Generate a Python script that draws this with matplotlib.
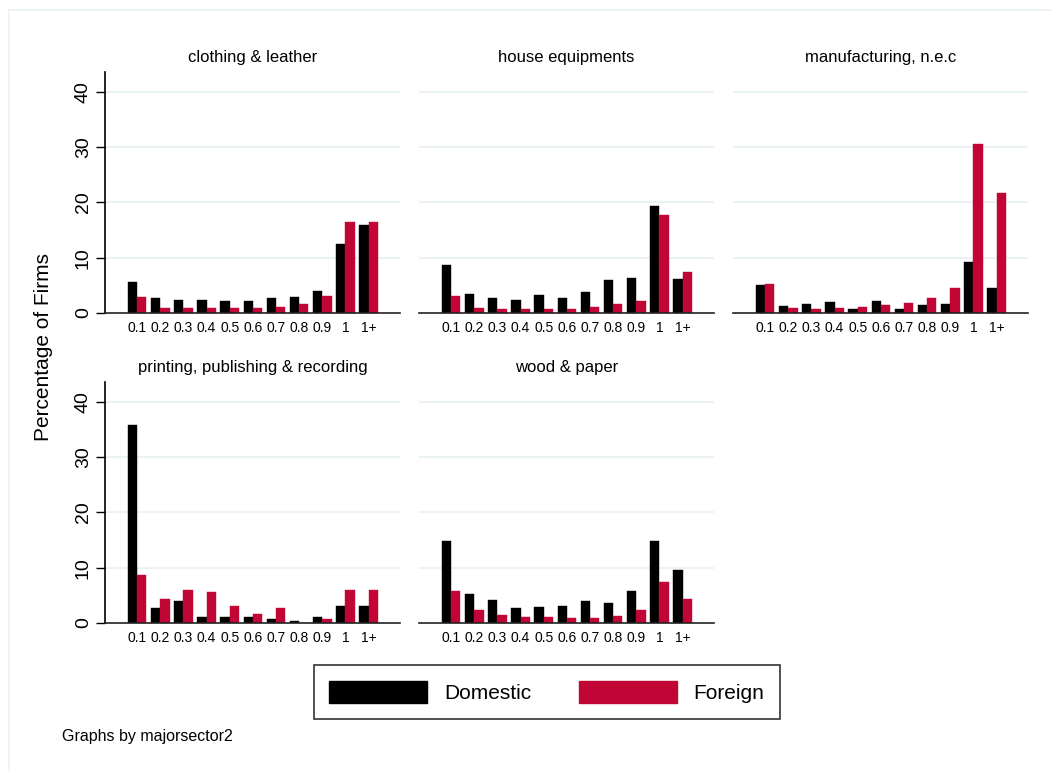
import matplotlib
matplotlib.use('Agg')
import matplotlib.pyplot as plt
from matplotlib.patches import Patch
from matplotlib.lines import Line2D
import numpy as np

plt.rcParams['font.family'] = ['Liberation Sans', 'DejaVu Sans']

# data
categories = ['0.1', '0.2', '0.3', '0.4', '0.5', '0.6', '0.7', '0.8', '0.9', '1', '1+']
sectors = ['clothing & leather', 'house equipments', 'manufacturing, n.e.c',
           'printing, publishing & recording', 'wood & paper']

clothing_dom = [5.6, 2.7, 2.4, 2.3, 2.2, 2.2, 2.7, 2.9, 3.9, 12.4, 16.0]
clothing_for = [2.9, 0.9, 0.9, 0.9, 0.9, 0.95, 1.1, 1.6, 3.1, 16.5, 16.5]
house_dom = [8.6, 3.4, 2.65, 2.35, 3.2, 2.75, 3.8, 5.9, 6.4, 19.3, 6.1]
house_for = [3.1, 0.9, 0.65, 0.7, 0.65, 0.7, 1.1, 1.7, 2.2, 17.7, 7.4]
manuf_dom = [5.05, 1.25, 1.6, 2.0, 0.7, 2.15, 0.7, 1.5, 1.6, 9.2, 4.45]
manuf_for = [5.3, 0.9, 0.7, 0.85, 1.15, 1.4, 1.85, 2.7, 4.45, 30.6, 21.7]
print_dom = [35.8, 2.7, 4.0, 1.15, 1.15, 1.15, 0.7, 0.35, 1.15, 3.15, 3.15]
print_for = [8.7, 4.35, 5.9, 5.6, 3.15, 1.6, 2.75, 0.0, 0.8, 5.9, 5.9]
wood_dom = [14.9, 5.25, 4.1, 2.8, 2.9, 3.0, 3.9, 3.6, 5.7, 14.8, 9.5]
wood_for = [5.85, 2.3, 1.45, 1.15, 1.0, 0.9, 0.9, 1.35, 2.3, 7.4, 4.4]

domestic = [clothing_dom, house_dom, manuf_dom, print_dom, wood_dom]
foreign = [clothing_for, house_for, manuf_for, print_for, wood_for]

dom_color = '#000000'
for_color = '#c10534'
grid_color = '#eaf2f3'

W, H = 1051, 771
fig = plt.figure(figsize=(W / 100, H / 100), dpi=100)

# outer frame (top and left edges visible in the reference)
fig.add_artist(Line2D([9 / W, 1.0], [1 - 10 / H, 1 - 10 / H], color=grid_color, lw=1.2))
fig.add_artist(Line2D([9 / W, 9 / W], [1 - 10 / H, 0.0], color=grid_color, lw=1.2))

col_x = [105, 419, 733]
row_base = [313, 623]
panel_w = 295
panel_h = 241
x = np.arange(len(categories))
bw = 0.4

for k, name in enumerate(sectors):
    r, c = divmod(k, 3)
    left = col_x[c] / W
    bottom = 1 - row_base[r] / H
    ax = fig.add_axes([left, bottom, panel_w / W, panel_h / H])
    ax.bar(x - bw / 2, domestic[k], bw, color=dom_color, edgecolor=dom_color, lw=0.3)
    ax.bar(x + bw / 2, foreign[k], bw, color=for_color, edgecolor=for_color, lw=0.3)
    ax.set_xlim(-1.39, 11.36)
    ax.set_ylim(0, 43.6)
    for g in [10, 20, 30, 40]:
        ax.axhline(g, color=grid_color, lw=1.5, zorder=0)
    ax.set_xticks(x)
    ax.set_xticklabels(categories, fontsize=10)
    ax.tick_params(axis='x', length=0, pad=6)
    for s in ['top', 'right']:
        ax.spines[s].set_visible(False)
    ax.spines['bottom'].set_color('#222222')
    ax.spines['bottom'].set_linewidth(1.2)
    if c == 0:
        ax.set_yticks([0, 10, 20, 30, 40])
        ax.set_yticklabels(['0', '10', '20', '30', '40'], rotation=90, va='center', fontsize=14)
        ax.tick_params(axis='y', length=6.5, width=1, pad=3)
        ax.spines['left'].set_linewidth(1.2)
    else:
        ax.spines['left'].set_visible(False)
        ax.set_yticks([])
    ax.set_title(name, fontsize=12, pad=7)

fig.text(44 / W, 1 - 347 / H, 'Percentage of Firms', rotation=90, fontsize=15,
         ha='center', va='center')

handles = [Patch(facecolor=dom_color, edgecolor=dom_color),
           Patch(facecolor=for_color, edgecolor=for_color)]
leg = fig.legend(handles, ['Domestic', 'Foreign'], ncol=2, fontsize=15,
                 loc='center', bbox_to_anchor=(547 / W, 1 - 692 / H),
                 frameon=True, fancybox=False, edgecolor='black',
                 handlelength=4.7, handleheight=1.25, handletextpad=0.8,
                 columnspacing=2.3, borderpad=0.75)
leg.get_frame().set_linewidth(1.2)

fig.text(62 / W, 1 - 737 / H, 'Graphs by majorsector2', fontsize=11.5, va='center')

fig.savefig('out.png', dpi=100)
